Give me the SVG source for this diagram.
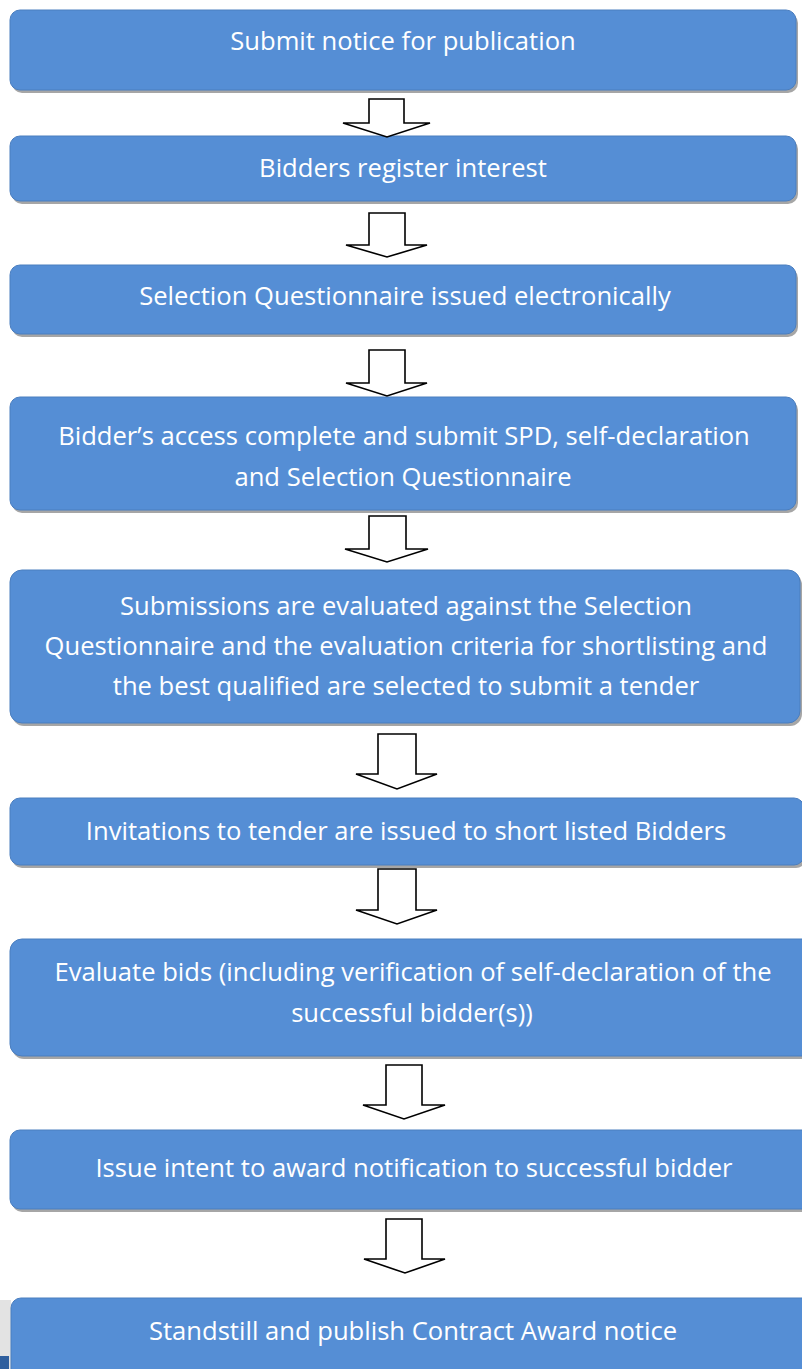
<svg xmlns="http://www.w3.org/2000/svg" width="802" height="1369" viewBox="0 0 802 1369">
<defs>
<style>
.box{fill:#558ed5;stroke:#4a7ebf;stroke-width:1}
.shadow{fill:#a6a6a6}
.t{font-family:"Open Sans","Liberation Sans",sans-serif;font-size:25.6px;fill:#ffffff;text-anchor:middle}
.arr{fill:#ffffff;stroke:#000000;stroke-width:1.6;stroke-linejoin:miter}
</style>
</defs>
<rect width="802" height="1369" fill="#ffffff"/>
<g id="artifact">
<rect x="0" y="1300" width="11" height="69" fill="#e3e3e3"/>
<rect x="0" y="1356" width="9" height="13" fill="#2f5f9e"/>
</g>
<g id="node1">
<rect class="shadow" x="12" y="13" width="786" height="80" rx="10"/>
<rect class="box" x="10" y="10" width="786" height="80" rx="10"/>
<text class="t" x="403" y="50">Submit notice for publication</text>
</g>
<g id="node2">
<rect class="shadow" x="12" y="139" width="786" height="65" rx="10"/>
<rect class="box" x="10" y="136" width="786" height="65" rx="10"/>
<text class="t" x="403" y="177">Bidders register interest</text>
</g>
<g id="node3">
<rect class="shadow" x="12" y="268" width="786" height="69" rx="10"/>
<rect class="box" x="10" y="265" width="786" height="69" rx="10"/>
<text class="t" x="405" y="305">Selection Questionnaire issued electronically</text>
</g>
<g id="node4">
<rect class="shadow" x="12" y="400" width="786" height="113" rx="10"/>
<rect class="box" x="10" y="397" width="786" height="113" rx="10"/>
<text class="t" x="404" y="445">Bidder’s access complete and submit SPD, self-declaration</text>
<text class="t" x="403" y="486">and Selection Questionnaire</text>
</g>
<g id="node5">
<rect class="shadow" x="12" y="573" width="790" height="153" rx="12"/>
<rect class="box" x="10" y="570" width="790" height="153" rx="12"/>
<text class="t" x="406" y="615">Submissions are evaluated against the Selection</text>
<text class="t" x="406" y="655">Questionnaire and the evaluation criteria for shortlisting and</text>
<text class="t" x="406" y="695">the best qualified are selected to submit a tender</text>
</g>
<g id="node6">
<rect class="shadow" x="12" y="801" width="794" height="67" rx="10"/>
<rect class="box" x="10" y="798" width="794" height="67" rx="10"/>
<text class="t" x="406" y="840">Invitations to tender are issued to short listed Bidders</text>
</g>
<g id="node7">
<rect class="shadow" x="12" y="942" width="806" height="117" rx="12"/>
<rect class="box" x="10" y="939" width="806" height="117" rx="12"/>
<text class="t" x="413" y="981">Evaluate bids (including verification of self-declaration of the</text>
<text class="t" x="412" y="1022">successful bidder(s))</text>
</g>
<g id="node8">
<rect class="shadow" x="12" y="1133" width="806" height="79" rx="10"/>
<rect class="box" x="10" y="1130" width="806" height="79" rx="10"/>
<text class="t" x="414" y="1177">Issue intent to award notification to successful bidder</text>
</g>
<g id="node9">
<rect class="box" x="11" y="1298" width="806" height="90" rx="10"/>
<text class="t" x="413" y="1340">Standstill and publish Contract Award notice</text>
</g>
<g id="connectors">
<polygon class="arr" points="369,99 404,99 404,123 430,123 387,137 343,123 369,123"/>
<polygon class="arr" points="369,213 405,213 405,245 427,245 387,257 346,245 369,245"/>
<polygon class="arr" points="369,350 405,350 405,383 427,383 387,396 346,383 369,383"/>
<polygon class="arr" points="369,516 406,516 406,549 428,549 387,562 345,549 369,549"/>
<polygon class="arr" points="378,734 416,734 416,774 437,774 397,789 356,774 378,774"/>
<polygon class="arr" points="378,869 416,869 416,910 437,910 397,924 356,910 378,910"/>
<polygon class="arr" points="386,1065 422,1065 422,1105 445,1105 404,1119 363,1105 386,1105"/>
<polygon class="arr" points="386,1219 422,1219 422,1259 445,1259 405,1273 364,1259 386,1259"/>
</g>
</svg>
